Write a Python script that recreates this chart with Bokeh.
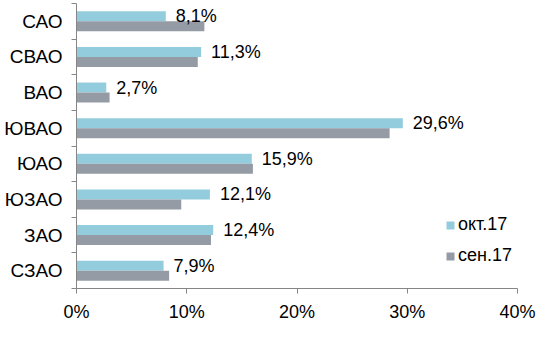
from bokeh.plotting import figure
from bokeh.models import ColumnDataSource, FixedTicker, PrintfTickFormatter, LabelSet, Range1d, Legend, LegendItem
from bokeh.core.properties import value
from bokeh.embed import file_html
from bokeh.resources import INLINE

categories = ["САО", "СВАО", "ВАО", "ЮВАО", "ЮАО", "ЮЗАО", "ЗАО", "СЗАО"]
oct17 = [8.1, 11.3, 2.7, 29.6, 15.9, 12.1, 12.4, 7.9]
sep17 = [11.6, 11.0, 3.0, 28.4, 16.0, 9.5, 12.2, 8.4]
oct_labels = ["8,1%", "11,3%", "2,7%", "29,6%", "15,9%", "12,1%", "12,4%", "7,9%"]
series_names = ["окт.17", "сен.17"]
x_ticks = [0, 10, 20, 30, 40]

n = len(categories)
pos = [n - 1 - i for i in range(n)]
bar_h = 0.28

src = ColumnDataSource(dict(
    y=pos,
    y_oct=[p_ + bar_h / 2 for p_ in pos],
    y_sep=[p_ - bar_h / 2 for p_ in pos],
    oct=oct17, sep=sep17, lab=oct_labels,
))

FONT = "Liberation Sans"
AX = "#868686"

p = figure(width=541, height=355, output_backend="svg", toolbar_location=None,
           x_range=Range1d(0, 40), y_range=Range1d(-0.5, n - 0.5),
           min_border_left=76, min_border_right=24, min_border_top=3, min_border_bottom=67)
p.outline_line_color = None
p.xgrid.grid_line_color = None
p.ygrid.grid_line_color = None
p.background_fill_color = "white"

r_oct = p.hbar(y="y_oct", right="oct", left=0, height=bar_h, source=src,
               fill_color="#93cddd", line_color=None)
r_sep = p.hbar(y="y_sep", right="sep", left=0, height=bar_h, source=src,
               fill_color="#959ba4", line_color=None)

labels = LabelSet(x="oct", y="y_oct", text="lab", source=src, x_offset=10, y_offset=0,
                  text_baseline="middle", text_align="left",
                  text_font=value(FONT), text_font_size="18px", text_color="#000000")
p.add_layout(labels)

# x axis
p.xaxis.ticker = FixedTicker(ticks=x_ticks)
p.xaxis.formatter = PrintfTickFormatter(format="%d%%")
p.xaxis.axis_line_color = AX
p.xaxis.major_tick_line_color = AX
p.xaxis.major_tick_in = 0
p.xaxis.major_tick_out = 5
p.xaxis.minor_tick_line_color = None
p.xaxis.major_label_text_font = FONT
p.xaxis.major_label_text_font_size = "18px"
p.xaxis.major_label_text_color = "#000000"
p.xaxis.major_label_standoff = 8

# y axis
p.yaxis.ticker = FixedTicker(ticks=pos, minor_ticks=[k - 0.5 for k in range(n + 1)])
p.yaxis.major_label_overrides = {pos[i]: categories[i] for i in range(n)}
p.yaxis.axis_line_color = AX
p.yaxis.major_tick_line_color = None
p.yaxis.major_tick_out = 5
p.yaxis.major_tick_in = 0
p.yaxis.minor_tick_line_color = AX
p.yaxis.minor_tick_in = 0
p.yaxis.minor_tick_out = 5
p.yaxis.major_label_text_font = FONT
p.yaxis.major_label_text_font_size = "19px"
p.yaxis.major_label_text_color = "#000000"
p.yaxis.major_label_standoff = 9

legend = Legend(items=[LegendItem(label=series_names[0], renderers=[r_oct]),
                       LegendItem(label=series_names[1], renderers=[r_sep])],
                location=(369, 22), padding=0, margin=0, spacing=10,
                glyph_width=10, glyph_height=10, label_standoff=3, label_height=20,
                label_text_font=FONT, label_text_font_size="18px",
                label_text_color="#000000", border_line_color=None,
                background_fill_alpha=0)
p.add_layout(legend)

open("out.html", "w").write(file_html(p, INLINE))
